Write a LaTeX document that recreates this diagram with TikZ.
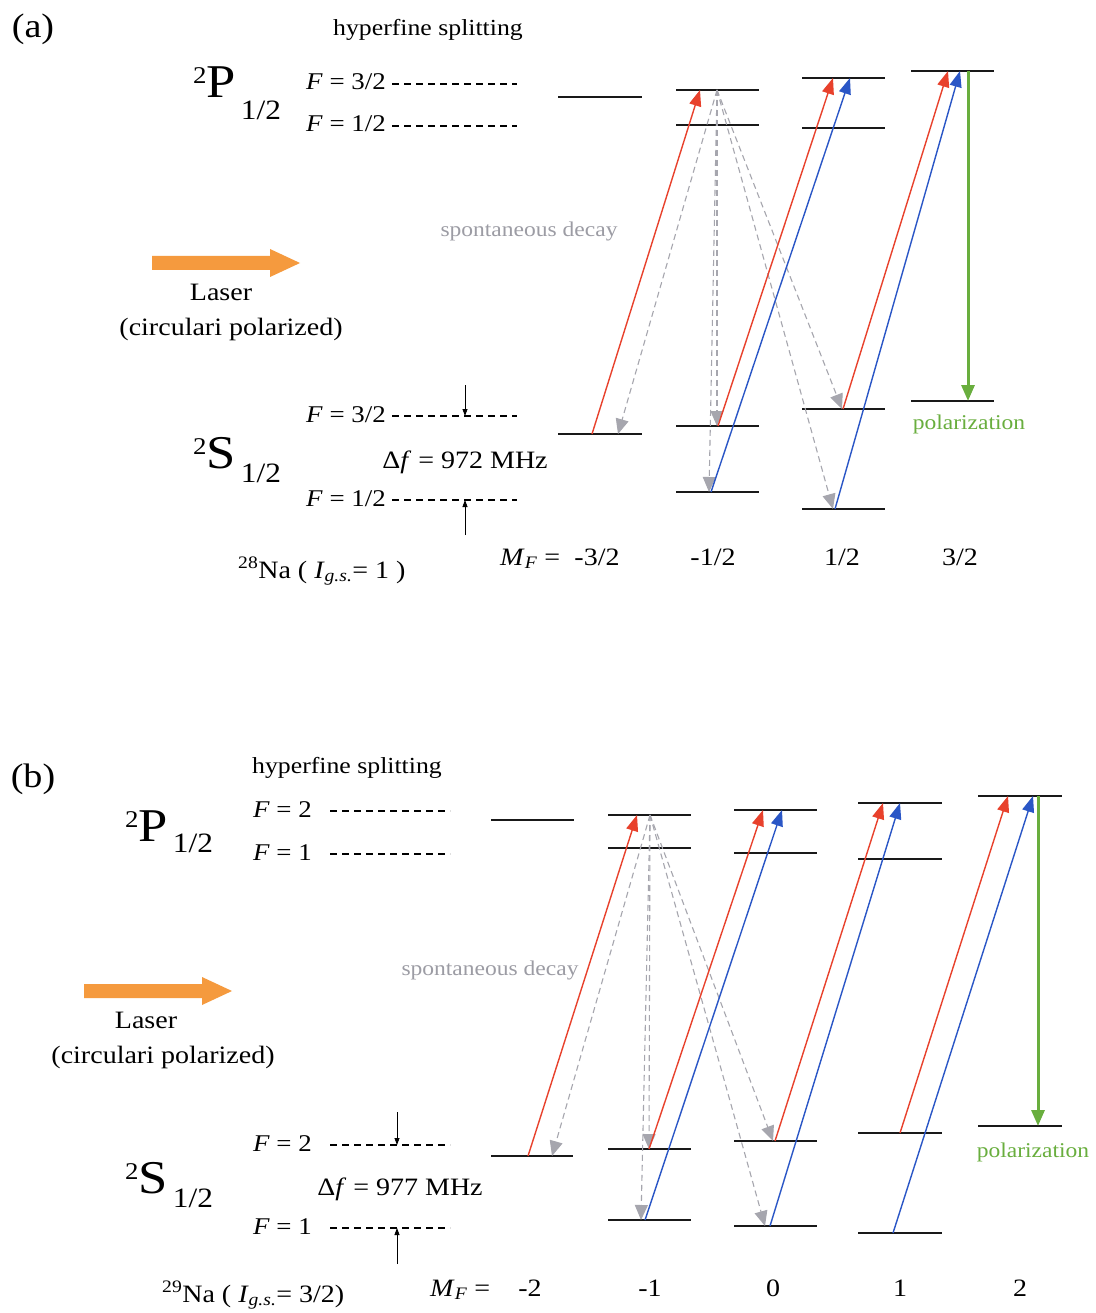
\documentclass[tikz,border=0pt]{standalone}
\usepackage{fontspec}
\setmainfont{Liberation Serif}[FakeStretch=1.12]
\usetikzlibrary{arrows.meta}
\definecolor{lred}{HTML}{E8412C}
\definecolor{lblue}{HTML}{2A56C6}
\definecolor{lgreen}{HTML}{69AE3E}
\definecolor{lgrey}{HTML}{A6A6AE}
\definecolor{lorange}{HTML}{F59A3E}
\definecolor{tgrey}{HTML}{9C9CA4}
\newcommand{\myterm}[3]{{\fontsize{24}{24}\selectfont\raisebox{14pt}{2}}{\fontsize{47}{47}\selectfont #1}\hspace{#3}{\fontsize{28}{28}\selectfont\raisebox{#2}{1/2}}}
\begin{document}
\begin{tikzpicture}[x=1pt,y=-1pt,
  lvl/.style={line width=2.2pt,draw=black!90},
  hfdash/.style={line width=1.2pt,dash pattern=on 7pt off 5pt},
  redar/.style={draw=lred,line width=1.4pt,-{Triangle[length=16pt,width=12pt]}},
  bluear/.style={draw=lblue,line width=1.4pt,-{Triangle[length=16pt,width=12pt]}},
  greenar/.style={draw=lgreen,line width=3pt,-{Triangle[length=16pt,width=13pt]}},
  decay/.style={draw=lgrey,line width=1.1pt,dash pattern=on 6pt off 4pt,-{Triangle[length=15pt,width=13pt]}},
  darr/.style={line width=0.8pt,-{Triangle[length=7pt,width=5pt]}},
  lab/.style={font=\fontsize{25}{28}\selectfont,inner sep=0pt},
  flab/.style={font=\fontsize{24}{28}\selectfont,inner sep=0pt},
  tag/.style={font=\fontsize{34}{36}\selectfont,inner sep=0pt},
  hf/.style={font=\fontsize{23}{26}\selectfont,inner sep=0pt},
  sdec/.style={font=\fontsize{21}{24}\selectfont,text=tgrey,inner sep=0pt},
  pol/.style={font=\fontsize{21}{24}\selectfont,text=lgreen,inner sep=0pt},
  laser/.style={fill=lorange,draw=none}]
\useasboundingbox (0,0) rectangle (1095,1313);
\fill[white] (0,0) rectangle (1095,1313);

%================ (a) ================
\node[tag,anchor=base] (atag) at (33,38) {(a)};
\node[hf,anchor=base] (ahf) at (428,36) {hyperfine splitting};
\node[anchor=base west,inner sep=0pt] (aP) at (193,98) {\myterm{P}{-22pt}{5pt}};
\node[flab,anchor=base east] (aPF2) at (386,90) {\textit{F} = 3/2};
\node[flab,anchor=base east] (aPF1) at (386,132) {\textit{F} = 1/2};
\draw[hfdash] (392,84) -- (517,84);
\draw[hfdash] (392,126) -- (517,126);

\node[anchor=base west,inner sep=0pt] (aS) at (193,468) {\myterm{S}{-14pt}{5pt}};
\node[flab,anchor=base east] (aSF2) at (386,422) {\textit{F} = 3/2};
\node[flab,anchor=base east] (aSF1) at (386,506) {\textit{F} = 1/2};
\draw[hfdash] (392,416) -- (517,416);
\draw[hfdash] (392,500) -- (517,500);
\coordinate (aA1s) at (465,385); \coordinate (aA1e) at (465,416);
\coordinate (aA2s) at (465,535); \coordinate (aA2e) at (465,500);
\draw[darr] (aA1s) -- (aA1e);
\draw[darr] (aA2s) -- (aA2e);
\node[lab,anchor=base] (adf) at (465,468) {Δ\textit{f} = 972 MHz};
\node[lab,anchor=base west] (aNa) at (238,578) {\textsuperscript{28}Na ( \textit{I}\textsubscript{\textit{g.s.}}= 1 )};
\node[lab,anchor=base west] (aMF) at (500,565) {\textit{M}\textsubscript{\textit{F}} =};
\node[lab,anchor=base] (am1) at (597,565) {-3/2};
\node[lab,anchor=base] (am2) at (713,565) {-1/2};
\node[lab,anchor=base] (am3) at (842,565) {1/2};
\node[lab,anchor=base] (am4) at (960,565) {3/2};

\fill[laser] (152,256) -- (270,256) -- (270,249) -- (300,263) -- (270,277) -- (270,270) -- (152,270) -- cycle;
\node[lab,anchor=base] (alaser) at (221,301) {Laser};
\node[lab,anchor=base] (acirc) at (231,335) {(circulari polarized)};
\node[sdec,anchor=base] (asd) at (529,237) {spontaneous decay};
\node[pol,anchor=base] (apol) at (969,429) {polarization};

% levels (a)
\draw[lvl] (558,97) -- (642,97);
\draw[lvl] (676,90) -- (759,90);
\draw[lvl] (676,125) -- (759,125);
\draw[lvl] (802,78) -- (885,78);
\draw[lvl] (802,128) -- (885,128);
\draw[lvl] (911,71) -- (994,71);
\draw[lvl] (558,434) -- (642,434);
\draw[lvl] (676,426) -- (759,426);
\draw[lvl] (676,492) -- (759,492);
\draw[lvl] (802,409) -- (885,409);
\draw[lvl] (802,509) -- (885,509);
\draw[lvl] (911,401) -- (994,401);

\coordinate (aR1s) at (592,434); \coordinate (aR1e) at (700,90);
\coordinate (aR2s) at (718,426); \coordinate (aR2e) at (833,78);
\coordinate (aR3s) at (843,409); \coordinate (aR3e) at (948,71);
\coordinate (aB1s) at (711,492); \coordinate (aB1e) at (850,78);
\coordinate (aB2s) at (835,509); \coordinate (aB2e) at (960,71);
\coordinate (aGs) at (968,71); \coordinate (aGe) at (968,401);
\coordinate (aD) at (717,90);
\coordinate (aD1) at (618,434); \coordinate (aD2) at (717,426);
\coordinate (aD3) at (709,492); \coordinate (aD4) at (842,409);
\coordinate (aD5) at (833,509);
\foreach \t in {aD1,aD2,aD3,aD4,aD5} \draw[decay] (aD) -- (\t);
\draw[redar] (aR1s) -- (aR1e);
\draw[redar] (aR2s) -- (aR2e);
\draw[redar] (aR3s) -- (aR3e);
\draw[bluear] (aB1s) -- (aB1e);
\draw[bluear] (aB2s) -- (aB2e);
\draw[greenar] (aGs) -- (aGe);

%================ (b) ================
\node[tag,anchor=base] (btag) at (33,787) {(b)};
\node[hf,anchor=base] (bhf) at (347,773) {hyperfine splitting};
\node[anchor=base west,inner sep=0pt] (bP) at (125,841) {\myterm{P}{-11pt}{5pt}};
\node[flab,anchor=base east] (bPF2) at (312,817) {\textit{F} = 2};
\node[flab,anchor=base east] (bPF1) at (312,860) {\textit{F} = 1};
\draw[hfdash] (330,811) -- (450,811);
\draw[hfdash] (330,854) -- (450,854);

\node[anchor=base west,inner sep=0pt] (bS) at (125,1193) {\myterm{S}{-14pt}{5pt}};
\node[flab,anchor=base east] (bSF2) at (312,1151) {\textit{F} = 2};
\node[flab,anchor=base east] (bSF1) at (312,1234) {\textit{F} = 1};
\draw[hfdash] (330,1145) -- (450,1145);
\draw[hfdash] (330,1228) -- (450,1228);
\coordinate (bA1s) at (397,1112); \coordinate (bA1e) at (397,1145);
\coordinate (bA2s) at (397,1264); \coordinate (bA2e) at (397,1228);
\draw[darr] (bA1s) -- (bA1e);
\draw[darr] (bA2s) -- (bA2e);
\node[lab,anchor=base] (bdf) at (400,1195) {Δ\textit{f} = 977 MHz};
\node[lab,anchor=base west] (bNa) at (162,1302) {\textsuperscript{29}Na ( \textit{I}\textsubscript{\textit{g.s.}}= 3/2)};
\node[lab,anchor=base west] (bMF) at (430,1296) {\textit{M}\textsubscript{\textit{F}} =};
\node[lab,anchor=base] (bm1) at (530,1296) {-2};
\node[lab,anchor=base] (bm2) at (650,1296) {-1};
\node[lab,anchor=base] (bm3) at (773,1296) {0};
\node[lab,anchor=base] (bm4) at (900,1296) {1};
\node[lab,anchor=base] (bm5) at (1020,1296) {2};

\fill[laser] (84,984) -- (202,984) -- (202,977) -- (232,991) -- (202,1005) -- (202,998) -- (84,998) -- cycle;
\node[lab,anchor=base] (blaser) at (146,1028) {Laser};
\node[lab,anchor=base] (bcirc) at (163,1063) {(circulari polarized)};
\node[sdec,anchor=base] (bsd) at (490,975) {spontaneous decay};
\node[pol,anchor=base] (bpol) at (1033,1157) {polarization};

% levels (b)
\draw[lvl] (491,820) -- (574,820);
\draw[lvl] (608,815) -- (691,815);
\draw[lvl] (608,848) -- (691,848);
\draw[lvl] (734,810) -- (817,810);
\draw[lvl] (734,853) -- (817,853);
\draw[lvl] (858,803) -- (942,803);
\draw[lvl] (858,859) -- (942,859);
\draw[lvl] (978,796) -- (1062,796);
\draw[lvl] (491,1156) -- (573,1156);
\draw[lvl] (608,1149) -- (691,1149);
\draw[lvl] (608,1220) -- (691,1220);
\draw[lvl] (734,1141) -- (817,1141);
\draw[lvl] (734,1226) -- (817,1226);
\draw[lvl] (858,1133) -- (942,1133);
\draw[lvl] (858,1233) -- (942,1233);
\draw[lvl] (978,1126) -- (1062,1126);

\coordinate (bR1s) at (528,1156); \coordinate (bR1e) at (637,815);
\coordinate (bR2s) at (649,1149); \coordinate (bR2e) at (763,810);
\coordinate (bR3s) at (775,1141); \coordinate (bR3e) at (883,803);
\coordinate (bR4s) at (900,1133); \coordinate (bR4e) at (1008,796);
\coordinate (bB1s) at (645,1220); \coordinate (bB1e) at (782,810);
\coordinate (bB2s) at (770,1226); \coordinate (bB2e) at (900,803);
\coordinate (bB3s) at (893,1233); \coordinate (bB3e) at (1033,796);
\coordinate (bGs) at (1038,796); \coordinate (bGe) at (1038,1126);
\coordinate (bD) at (650,815);
\coordinate (bD1) at (552,1156); \coordinate (bD2) at (649,1149);
\coordinate (bD3) at (641,1220); \coordinate (bD4) at (773,1141);
\coordinate (bD5) at (765,1226);
\foreach \t in {bD1,bD2,bD3,bD4,bD5} \draw[decay] (bD) -- (\t);
\draw[redar] (bR1s) -- (bR1e);
\draw[redar] (bR2s) -- (bR2e);
\draw[redar] (bR3s) -- (bR3e);
\draw[redar] (bR4s) -- (bR4e);
\draw[bluear] (bB1s) -- (bB1e);
\draw[bluear] (bB2s) -- (bB2e);
\draw[bluear] (bB3s) -- (bB3e);
\draw[greenar] (bGs) -- (bGe);
\end{tikzpicture}
\end{document}
